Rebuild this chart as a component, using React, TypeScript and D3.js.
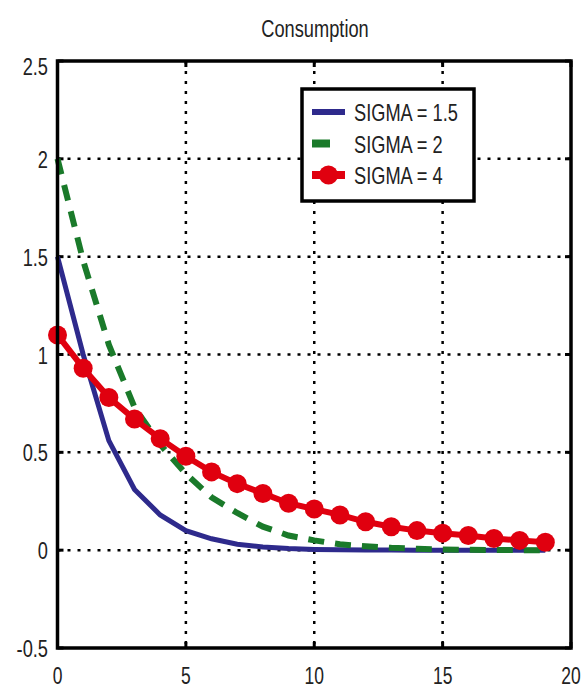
import React from "react";
import * as d3 from "d3";

const title = "Consumption";
const xTicks = [0, 5, 10, 15, 20];
const yTicks = [-0.5, 0, 0.5, 1, 1.5, 2, 2.5];
const periods = d3.range(0, 20);
const sigma15 = [1.5, 1.0, 0.56, 0.31, 0.18, 0.1, 0.058, 0.03, 0.016, 0.008, 0.004, 0.002, 0.001, 0.0005, 0, 0, 0, 0, 0, 0];
const sigma2 = [2.0, 1.48, 1.05, 0.73, 0.54, 0.39, 0.27, 0.19, 0.12, 0.075, 0.05, 0.03, 0.02, 0.012, 0.007, 0.004, 0.002, 0.001, 0, 0];
const sigma4 = [1.1, 0.93, 0.78, 0.67, 0.57, 0.48, 0.4, 0.34, 0.29, 0.24, 0.21, 0.18, 0.145, 0.12, 0.1, 0.087, 0.075, 0.06, 0.05, 0.04];
const legendLabels = ["SIGMA = 1.5", "SIGMA = 2", "SIGMA = 4"];

const BLUE = "#2e2a8c";
const GREEN = "#1a7a2a";
const RED = "#e0000f";
const FONT = "'Liberation Sans', Arial, sans-serif";
const SX = 0.76;

function T({ x, y, anchor = "start", size = 24, children }: { x: number; y: number; anchor?: string; size?: number; children: React.ReactNode }) {
  return (
    <text transform={`translate(${x},${y}) scale(${SX},1)`} textAnchor={anchor as any} fontFamily={FONT} fontSize={size} fill="#222">
      {children}
    </text>
  );
}

export default function App() {
  const W = 586, H = 691;
  const L = 57.5, R = 571, TOP = 61, B = 648;
  const x = d3.scaleLinear().domain([0, 20]).range([L, R]);
  const y = d3.scaleLinear().domain([-0.5, 2.5]).range([B, TOP]);
  const line = d3.line<number>().x((_, i) => x(periods[i])).y((d) => y(d));

  const gridStyle = { stroke: "#000", strokeWidth: 2.5, strokeDasharray: "3,7" };

  return (
    <svg width={W} height={H} style={{ position: "absolute", left: 0, top: 0, background: "#fff" }}>
      <rect width={W} height={H} fill="#fff" />
      <T x={315} y={37} anchor="middle" size={24}>{title}</T>
      {xTicks.filter((t) => t > 0 && t < 20).map((t) => (
        <line key={"gx" + t} x1={x(t)} x2={x(t)} y1={TOP} y2={B} {...gridStyle} />
      ))}
      {yTicks.filter((t) => t > -0.5 && t < 2.5).map((t) => (
        <line key={"gy" + t} x1={L} x2={R} y1={y(t)} y2={y(t)} {...gridStyle} />
      ))}
      {xTicks.map((t) => (
        <g key={"tx" + t}>
          <line x1={x(t)} x2={x(t)} y1={B} y2={B - 6} stroke="#000" strokeWidth={3} />
          <line x1={x(t)} x2={x(t)} y1={TOP} y2={TOP + 6} stroke="#000" strokeWidth={3} />
          <T x={x(t)} y={684} anchor="middle" size={23}>{t}</T>
        </g>
      ))}
      {yTicks.map((t) => (
        <g key={"ty" + t}>
          <line x1={L} x2={L + 6} y1={y(t)} y2={y(t)} stroke="#000" strokeWidth={3} />
          <line x1={R} x2={R - 6} y1={y(t)} y2={y(t)} stroke="#000" strokeWidth={3} />
          <T x={48} y={(t === 2.5 ? y(t) + 5 : y(t)) + 9} anchor="end">{t}</T>
        </g>
      ))}
      <path d={line(sigma15) || ""} fill="none" stroke={BLUE} strokeWidth={5} />
      <path d={line(sigma2) || ""} fill="none" stroke={GREEN} strokeWidth={6} strokeDasharray="16,11" />
      <path d={line(sigma4) || ""} fill="none" stroke={RED} strokeWidth={6} />
      {sigma4.map((v, i) => (
        <circle key={"m" + i} cx={x(periods[i])} cy={y(v)} r={9.5} fill={RED} />
      ))}
      <rect x={L} y={TOP} width={R - L} height={B - TOP} fill="none" stroke="#000" strokeWidth={3.5} />
      <g>
        <rect x={302} y={89} width={172} height={112} fill="#fff" stroke="#000" strokeWidth={3.5} />
        {legendLabels.map((lab, i) => {
          const ly = 112 + i * 31.5;
          const col = [BLUE, GREEN, RED][i];
          return (
            <g key={lab}>
              {i === 0 && <line x1={312} x2={345} y1={ly} y2={ly} stroke={col} strokeWidth={6} />}
              {i === 1 && <line x1={312} x2={330} y1={ly} y2={ly} stroke={col} strokeWidth={8} />}
              {i === 2 && (
                <g>
                  <line x1={312} x2={345} y1={ly} y2={ly} stroke={col} strokeWidth={8} />
                  <circle cx={328.5} cy={ly} r={9.5} fill={col} />
                </g>
              )}
              <T x={354} y={ly + 9}>{lab}</T>
            </g>
          );
        })}
      </g>
    </svg>
  );
}
